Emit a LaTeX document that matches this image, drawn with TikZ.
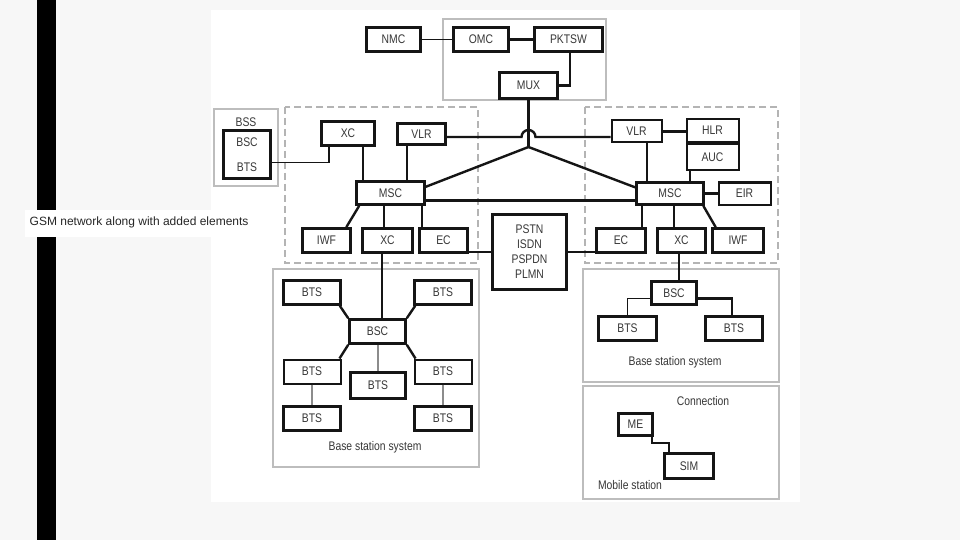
\documentclass[tikz,border=0pt]{standalone}
\usepackage{fontspec}
\setmainfont{Liberation Sans}
\newfontfamily\diagfont[FakeStretch=0.83]{Liberation Sans}
\usetikzlibrary{positioning}
\definecolor{pagegray}{HTML}{F7F7F7}
\definecolor{framegray}{HTML}{BDBDBD}
\definecolor{dashgray}{HTML}{B4B4B4}
\definecolor{inkgray}{HTML}{383838}
\definecolor{inkblack}{HTML}{151515}
\tikzset{
  every picture/.style={line join=miter},
  box/.style={draw=inkblack, line width=2.6pt, fill=white, inner sep=0pt, text=inkgray, font=\diagfont\fontsize{12.5}{15}\selectfont},
  thinbox/.style={box, line width=2pt},
  sz/.style 2 args={minimum width=#1, minimum height=#2},
  grp/.style={draw=framegray, line width=2pt},
  dgrp/.style={draw=dashgray, line width=1.5pt, dash pattern=on 7pt off 4pt},
  link/.style={draw=inkblack, line width=2.4pt},
  thinlink/.style={draw=inkblack, line width=1.6pt},
  graylink/.style={draw=black!45, line width=2pt},
  note/.style={text=inkgray, inner sep=0pt, font=\diagfont\fontsize{12.5}{15}\selectfont},
}

\begin{document}
\begin{tikzpicture}[x=1pt,y=-1pt]
\useasboundingbox (0,0) rectangle (960,540);
\fill[pagegray] (0,0) rectangle (960,540);
\fill[black] (37,0) rectangle (56,540);
\fill[white] (211,10) rectangle (800,502);
\fill[white] (25,210) rectangle (211,237);
\node[anchor=base west, inner sep=0pt, text=black!85, font=\fontsize{12}{14}\selectfont] (title) at (29.5,225) {GSM network along with added elements};

\draw[grp] (443,19) rectangle (606,100);
\draw[grp] (214,109) rectangle (278,186);
\draw[dgrp] (285,107) rectangle (478,263);
\draw[dgrp] (585,107) rectangle (778,263);
\draw[grp] (273,269) rectangle (479,467);
\draw[grp] (583,269) rectangle (779,382);
\draw[grp] (583,386) rectangle (779,499);

\node[box, sz={54}{24}] (nmc) at (393.5,39.5) {NMC};
\node[box, sz={55}{24}] (omc) at (481,39.5) {OMC};
\node[box, sz={68}{24}] (pktsw) at (568.5,39.5) {PKTSW};
\node[box, sz={58}{26}] (mux) at (528.5,85.5) {MUX};

\node[box, sz={47}{48}] (bssin) at (247,154.5) {};
\node[note] (bsstxt) at (246,122) {BSS};
\node[note] (bsctxt) at (247,142) {BSC};
\node[note] (btstxt) at (247,167) {BTS};

\node[box, sz={53}{24}] (lxc) at (348,133.5) {XC};
\node[box, sz={48}{21}] (lvlr) at (421.5,134) {VLR};
\node[box, sz={68}{23}] (lmsc) at (390.5,193) {MSC};
\node[box, sz={48}{24}] (liwf) at (326.5,240.5) {IWF};
\node[box, sz={50}{24}] (lxc2) at (387.5,240.5) {XC};
\node[box, sz={48}{24}] (lec) at (443.5,240.5) {EC};

\node[box, sz={74}{75}, align=center] (pstn) at (529.5,252) {PSTN\\ISDN\\PSPDN\\PLMN};

\node[thinbox, sz={50}{22}] (rvlr) at (636.5,131.5) {VLR};
\node[thinbox, sz={52}{23}] (hlr) at (712.5,130.5) {HLR};
\node[thinbox, sz={52}{26}] (auc) at (712.5,157) {AUC};
\node[box, sz={67}{22}] (rmsc) at (670,193.5) {MSC};
\node[thinbox, sz={52}{22}] (eir) at (744.5,193.5) {EIR};
\node[box, sz={49}{24}] (rec) at (621,240.5) {EC};
\node[box, sz={48}{24}] (rxc) at (681.5,240.5) {XC};
\node[box, sz={51}{24}] (riwf) at (738,240.5) {IWF};

\node[box, sz={57}{24}] (bts1) at (312,292.5) {BTS};
\node[box, sz={57}{24}] (bts2) at (443,292.5) {BTS};
\node[box, sz={56}{24}] (lbsc) at (377.5,331.5) {BSC};
\node[thinbox, sz={57}{24}] (bts3) at (312,371.5) {BTS};
\node[box, sz={55}{26}] (bts4) at (378,385.5) {BTS};
\node[thinbox, sz={57}{24}] (bts5) at (443,371.5) {BTS};
\node[box, sz={57}{24}] (bts6) at (312,418.5) {BTS};
\node[box, sz={57}{24}] (bts7) at (443,418.5) {BTS};
\node[note] (bsslow1) at (375,447) {Base station system};

\node[box, sz={45}{23}] (rbsc) at (674,293) {BSC};
\node[box, sz={58}{24}] (rbts1) at (627.5,328.5) {BTS};
\node[box, sz={57}{24}] (rbts2) at (734,328.5) {BTS};
\node[note] (bsslow2) at (675,362) {Base station system};
\node[note] (conn) at (703,401) {Connection};
\node[box, sz={34}{22}] (me) at (635.5,424.5) {ME};
\node[box, sz={49}{25}] (sim) at (689,466) {SIM};
\node[note] (mstation) at (630,485) {Mobile station};

\coordinate (j) at (528.5,147);
\coordinate (hl) at (521.5,137);
\coordinate (hz) at (lmsc.-12);
\coordinate (ecl) at (lec.-24);
\coordinate (ecr) at (rec.204);

\draw[thinlink] (nmc.east) -- (omc.west);
\draw[link] (omc.east) -- (pktsw.west);
\draw[link] ([xshift=1.5pt]pktsw.south) |- (mux.east);
\draw[link] (mux.south) -- (j);
\draw[link] (lvlr.east |- hl) -- (hl) arc[start angle=180, end angle=360, radius=7] -- (rvlr.west |- hl);
\draw[link] (j) -- (lmsc.10);
\draw[link] (j) -- (rmsc.170);
\draw[link] (hz) -- (hz -| rmsc.west);
\draw[thinlink] (bssin.-18) -| ([xshift=-19pt]lxc.south);
\draw[link] ([xshift=15pt]lxc.south) -- ([xshift=15pt]lxc.south |- lmsc.north);
\draw[link] ([xshift=-14.5pt]lvlr.south) -- ([xshift=-14.5pt]lvlr.south |- lmsc.north);
\draw[link] ([xshift=4pt]lmsc.south west) -- ([xshift=-5.5pt]liwf.north east);
\draw[link] ([xshift=-6.5pt]lmsc.south) -- ([xshift=-6.5pt]lmsc.south |- lxc2.north);
\draw[link] ([xshift=31.5pt]lmsc.south) -- ([xshift=31.5pt]lmsc.south |- lec.north);
\draw[link] (ecl) -- (ecl -| pstn.west);
\draw[link] (ecr) -- (ecr -| pstn.east);
\draw[link] ([xshift=-5.5pt]lxc2.south) -- ([xshift=-5.5pt]lxc2.south |- lbsc.north);

\draw[link] (rvlr.east) -- (rvlr.east -| hlr.west);
\draw[link] ([xshift=10.5pt]rvlr.south) -- ([xshift=10.5pt]rvlr.south |- rmsc.north);
\draw[link] ([xshift=-22.5pt]auc.south) -- ([xshift=-22.5pt]auc.south |- rmsc.north);
\draw[link] (rmsc.east) -- (eir.west);
\draw[link] ([xshift=-28pt]rmsc.south) -- ([xshift=-28pt]rmsc.south |- rec.north);
\draw[link] ([xshift=4pt]rmsc.south) -- ([xshift=4pt]rmsc.south |- rxc.north);
\draw[link] ([xshift=-1.5pt]rmsc.south east) -- ([xshift=4.5pt]riwf.north west);
\draw[link] ([xshift=-2.5pt]rxc.south) -- ([xshift=-2.5pt]rxc.south |- rbsc.north);

\draw[link] (lbsc.north west) -- ([xshift=-2pt]bts1.south east);
\draw[link] (lbsc.north east) -- ([xshift=2pt]bts2.south west);
\draw[link] (lbsc.south west) -- ([xshift=-2pt]bts3.north east);
\draw[link] (lbsc.south east) -- ([xshift=2pt]bts5.north west);
\draw[graylink] (lbsc.south) -- (lbsc.south |- bts4.north);
\draw[graylink] (bts3.south) -- (bts6.north);
\draw[graylink] (bts5.south) -- (bts7.north);

\draw[thinlink] (rbsc.193) -| (rbts1.north);
\draw[link] (rbsc.-13) -| ([xshift=-2pt]rbts2.north);
\draw[link] ([xshift=-2pt]me.south east) -- ++(0,6) -| ([xshift=-20pt]sim.north);
\end{tikzpicture}
\end{document}
